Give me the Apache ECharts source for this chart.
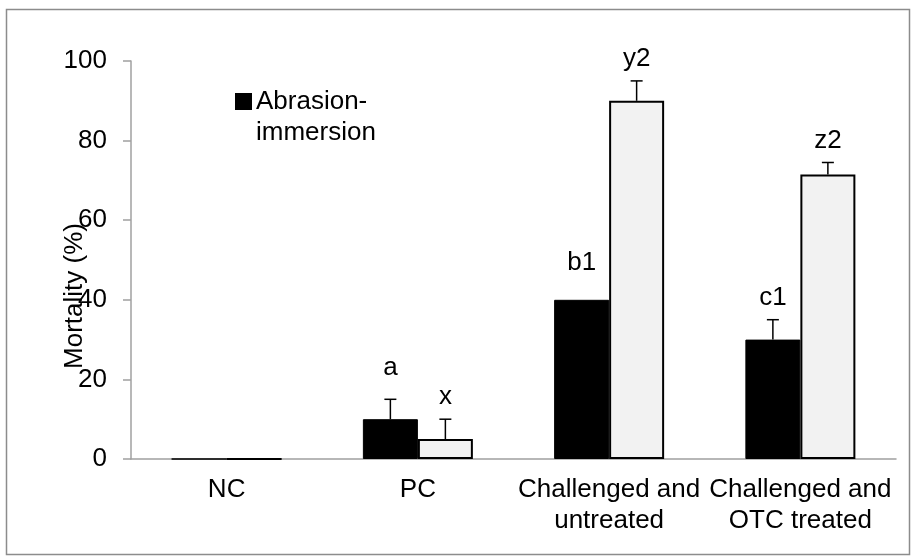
<!DOCTYPE html>
<html>
<head>
<meta charset="utf-8">
<script src="https://cdn.jsdelivr.net/npm/echarts@6/dist/echarts.min.js"></script>
<style>
  html, body { margin: 0; padding: 0; background: #fff; }
  #container { width: 915px; height: 559px; }
</style>
</head>
<body>
<div id="container"></div>
<script>
// data
var categories = ['NC', 'PC', 'Challenged and\nuntreated', 'Challenged and\nOTC treated'];
var abrasion = [0, 10, 40, 30];
var abrasionErr = [0, 5, 0, 5];
var otherGroup = [0, 5, 90, 71.5];
var otherErr = [0, 5, 5, 3];
var lettersA = ['', 'a', 'b1', 'c1'];
var lettersB = ['', 'x', 'y2', 'z2'];
var yTicks = [0, 20, 40, 60, 80, 100];

var FONT = '"Liberation Sans", Arial, sans-serif';
var BAR_W = 55;
// some letters sit a bit higher in the original
var extraLift = { 'a': 9, 'b1': 15 };

function errRows(vals, errs, letters) {
    var rows = [];
    for (var i = 0; i < vals.length; i++) {
        rows.push([i, vals[i], errs[i], letters[i]]);
    }
    return rows;
}

function makeErrRender(side) {
    return function (params, api) {
        var cat = api.value(0);
        var val = api.value(1);
        var err = api.value(2);
        var letter = (side < 0 ? lettersA : lettersB)[params.dataIndex];
        var base = api.coord([cat, val]);
        var x = base[0] + side * BAR_W / 2;
        var top = api.coord([cat, val + err])[1];
        var children = [];
        if (err > 0) {
            children.push({
                type: 'line',
                shape: { x1: x, y1: base[1], x2: x, y2: top },
                style: { stroke: '#000', lineWidth: 1.5 }
            });
            children.push({
                type: 'line',
                shape: { x1: x - 6, y1: top, x2: x + 6, y2: top },
                style: { stroke: '#000', lineWidth: 1.5 }
            });
        }
        if (letter) {
            children.push({
                type: 'text',
                style: {
                    text: letter,
                    x: x,
                    y: top - 22 - (extraLift[letter] || 0),
                    textAlign: 'center',
                    textVerticalAlign: 'middle',
                    font: '26px ' + FONT,
                    fill: '#000'
                }
            });
        }
        return { type: 'group', children: children };
    };
}

var dom = document.getElementById('container');
var chart = echarts.init(dom, null, { renderer: 'canvas' });

chart.setOption({
    animation: false,
    backgroundColor: '#fff',
    textStyle: { fontFamily: FONT },
    graphic: [{
        type: 'rect',
        shape: { x: 6.5, y: 9.5, width: 903, height: 545 },
        style: { fill: 'none', stroke: '#8c8c8c', lineWidth: 1.5 },
        z: -1
    }],
    legend: {
        data: ['Abrasion-immersion'],
        left: 235,
        top: 55,
        padding: 0,
        icon: 'rect',
        itemWidth: 15,
        itemHeight: 15,
        // blank first line so the icon lines up with "Abrasion-"
        formatter: function () { return ' \nAbrasion-\nimmersion'; },
        textStyle: {
            fontSize: 26,
            color: '#000',
            fontFamily: FONT,
            lineHeight: 31
        }
    },
    grid: { left: 131, right: 19, top: 61, bottom: 100 },
    xAxis: {
        type: 'category',
        data: categories,
        axisTick: { show: false },
        axisLine: { lineStyle: { color: '#a0a0a0', width: 1.5 } },
        axisLabel: {
            color: '#000',
            fontSize: 26,
            fontFamily: FONT,
            lineHeight: 31,
            margin: 15,
            interval: 0
        }
    },
    yAxis: {
        type: 'value',
        min: 0,
        max: 100,
        interval: 20,
        name: 'Mortality (%)',
        nameLocation: 'middle',
        nameGap: 43,
        nameMoveOverlap: false,
        nameTextStyle: {
            color: '#000',
            fontSize: 26,
            fontFamily: FONT,
            padding: [0, 72, 0, 0]
        },
        splitLine: { show: false },
        axisLine: { show: true, lineStyle: { color: '#a0a0a0', width: 1.5 } },
        axisTick: { show: true, length: 8, lineStyle: { color: '#a0a0a0', width: 1.5 } },
        axisLabel: {
            color: '#000',
            fontSize: 26,
            fontFamily: FONT,
            margin: 24,
            customValues: yTicks
        }
    },
    series: [
        {
            name: 'Abrasion-immersion',
            type: 'bar',
            data: abrasion,
            barWidth: BAR_W,
            barGap: '0%',
            itemStyle: { color: '#000', borderColor: '#000', borderWidth: 1 }
        },
        {
            name: 'Other',
            type: 'bar',
            data: otherGroup,
            barWidth: BAR_W,
            barGap: '0%',
            itemStyle: { color: '#f2f2f2', borderColor: '#000', borderWidth: 2 }
        },
        {
            type: 'custom',
            renderItem: makeErrRender(-1),
            data: errRows(abrasion, abrasionErr, lettersA),
            encode: { x: 0, y: 1 },
            z: 5
        },
        {
            type: 'custom',
            renderItem: makeErrRender(1),
            data: errRows(otherGroup, otherErr, lettersB),
            encode: { x: 0, y: 1 },
            z: 5
        }
    ]
});
</script>
</body>
</html>
